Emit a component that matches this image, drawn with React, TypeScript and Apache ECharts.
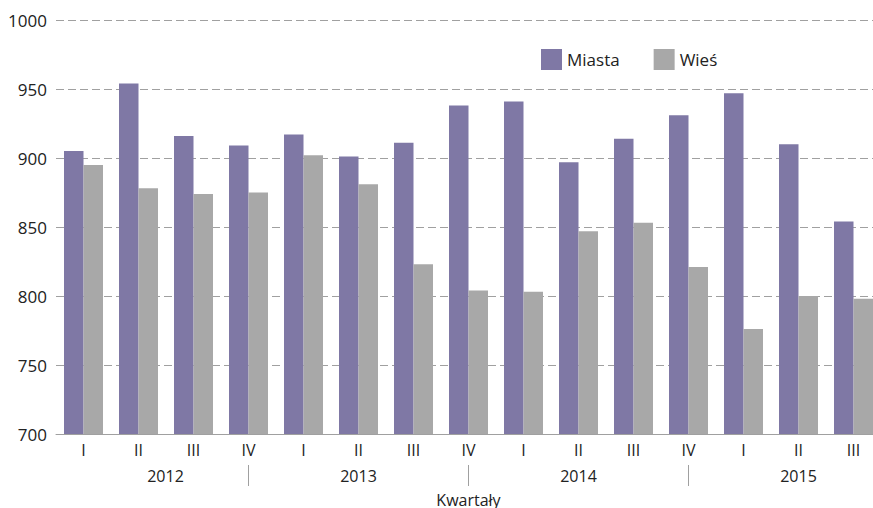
import React, { useEffect, useRef } from "react";
import * as echarts from "echarts";

const quarters = ["I", "II", "III", "IV", "I", "II", "III", "IV", "I", "II", "III", "IV", "I", "II", "III"];
const years = ["", "2012", "", "", "", "2013", "", "", "", "2014", "", "", "", "2015", ""];
const miasta = [905, 954, 916, 909, 917, 901, 911, 938, 941, 897, 914, 931, 947, 910, 854];
const wies = [895, 878, 874, 875, 902, 881, 823, 804, 803, 847, 853, 821, 776, 800, 798];
const yTicks = { min: 700, max: 1000, interval: 50 };

const FONT = "'Open Sans', sans-serif";
const TXT = "#222222";

export default function App() {
  const ref = useRef<HTMLDivElement>(null);
  useEffect(() => {
    if (!ref.current) return;
    const chart = echarts.init(ref.current, null, { renderer: "svg" });
    chart.setOption({
      animation: false,
      textStyle: { fontFamily: FONT },
      legend: {
        left: 536,
        top: 44,
        itemWidth: 21,
        itemHeight: 21,
        itemGap: 34,
        icon: "rect",
        textStyle: { fontSize: 17, color: TXT, fontFamily: FONT },
        data: ["Miasta", "Wieś"],
      },
      grid: { left: 56, top: 20, width: 825, height: 414, containLabel: false, outerBoundsMode: "none" },
      xAxis: [
        {
          type: "category",
          data: quarters,
          axisLine: { show: true, lineStyle: { color: "#a0a0a0", width: 1 } },
          axisTick: { show: false },
          axisLabel: { fontSize: 16, color: TXT, margin: 8, fontFamily: FONT },
          name: "Kwartały",
          nameLocation: "middle",
          nameGap: 58,
          nameTextStyle: { fontSize: 16, color: TXT, fontFamily: FONT },
        },
        {
          type: "category",
          data: years,
          position: "bottom",
          offset: 31,
          axisLine: { show: false },
          axisTick: {
            show: true,
            alignWithLabel: true,
            length: 21,
            interval: (i: number) => i === 3 || i === 7 || i === 11,
            lineStyle: { color: "#a0a0a0", width: 1 },
          },
          axisLabel: {
            interval: 0,
            margin: 3,
            fontSize: 16,
            color: TXT,
            fontFamily: FONT,
            formatter: (v: string, i: number) => (i === 1 ? "{s|" + v + "}" : v),
            rich: { s: { fontSize: 16, color: TXT, fontFamily: FONT, padding: [0, 0, 0, 54] } },
          },
        },
      ],
      yAxis: {
        type: "value",
        min: yTicks.min,
        max: yTicks.max,
        interval: yTicks.interval,
        axisLine: { show: false },
        axisTick: { show: false },
        axisLabel: { fontSize: 17, color: TXT, margin: 9, fontFamily: FONT, formatter: (v: number) => String(v) },
        splitLine: { show: true, lineStyle: { color: "#a0a0a0", type: [8, 4], width: 1 } },
      },
      series: [
        {
          name: "Miasta",
          type: "bar",
          data: miasta,
          barWidth: 19.5,
          barGap: "0%",
          itemStyle: { color: "#7f78a5" },
        },
        {
          name: "Wieś",
          type: "bar",
          data: wies,
          barWidth: 19.5,
          barGap: "0%",
          itemStyle: { color: "#a8a8a8" },
        },
      ],
    });
    return () => chart.dispose();
  }, []);
  return <div ref={ref} style={{ width: 873, height: 508, position: "absolute", left: 0, top: 0 }} />;
}
